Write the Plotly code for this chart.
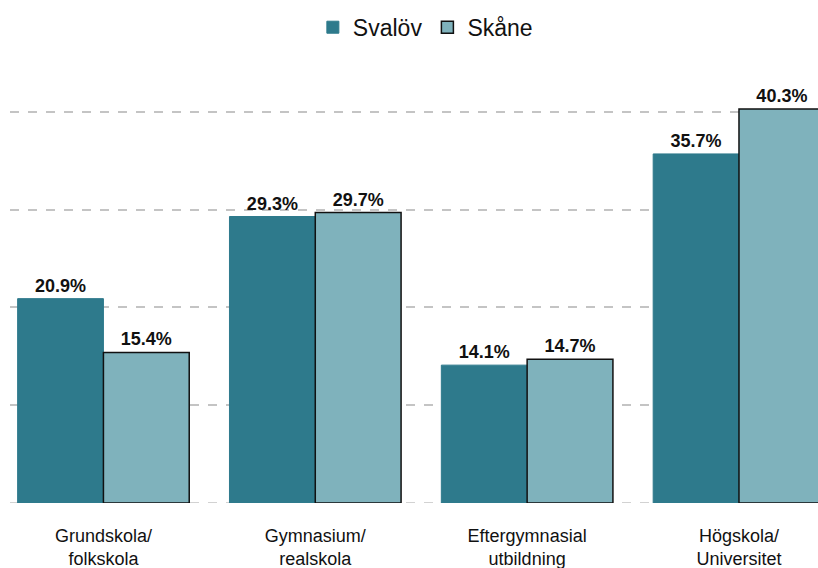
import plotly.graph_objects as go

categories = ["Grundskola/<br>folkskola", "Gymnasium/<br>realskola", "Eftergymnasial<br>utbildning", "Högskola/<br>Universitet"]
svalov = [20.9, 29.3, 14.1, 35.7]
skane = [15.4, 29.7, 14.7, 40.3]

label_font = dict(family="Liberation Sans, Arial", size=18, color="#111111", weight="bold")

fig = go.Figure()
fig.add_trace(go.Bar(
    name="Svalöv", x=categories, y=svalov,
    marker=dict(color="#2E7A8C", line=dict(color="#2E7A8C", width=1)),
    text=[f"{v:.1f}%" for v in svalov], textposition="outside",
    textfont=label_font, cliponaxis=False,
))
fig.add_trace(go.Bar(
    name="Skåne", x=categories, y=skane,
    marker=dict(color="#7FB2BC", line=dict(color="#111111", width=1.5)),
    text=[f"{v:.1f}%" for v in skane], textposition="outside",
    textfont=label_font, cliponaxis=False,
))

fig.add_shape(type="line", xref="paper", yref="y", x0=0, x1=1, y0=0, y1=0,
              line=dict(color="#C4C4C4", width=1.5, dash="dash"), layer="below")

fig.update_layout(
    width=818, height=568,
    margin=dict(l=10, r=0, t=63, b=65, autoexpand=False),
    plot_bgcolor="white", paper_bgcolor="white",
    barmode="group", bargap=0.19, bargroupgap=0,
    font=dict(family="Liberation Sans, Arial", color="#111111"),
    legend=dict(orientation="h", xref="container", yref="container",
                x=0.52, xanchor="center", y=0.952, yanchor="middle",
                font=dict(size=23), traceorder="normal"),
    showlegend=True,
)
fig.update_xaxes(range=[-0.441, 3.373], showgrid=False, showline=False, zeroline=False,
                 tickfont=dict(size=18), ticks="", automargin=False, ticklabelstandoff=20)
fig.update_yaxes(range=[0, 45], tickvals=[0, 10, 20, 30, 40], showticklabels=False,
                 showgrid=True, gridcolor="#C4C4C4", griddash="dash", gridwidth=1.5,
                 zeroline=False, showline=False, automargin=False)

fig.write_html("out.html", post_script="document.body.style.margin='0';",
               config={"displayModeBar": False})
